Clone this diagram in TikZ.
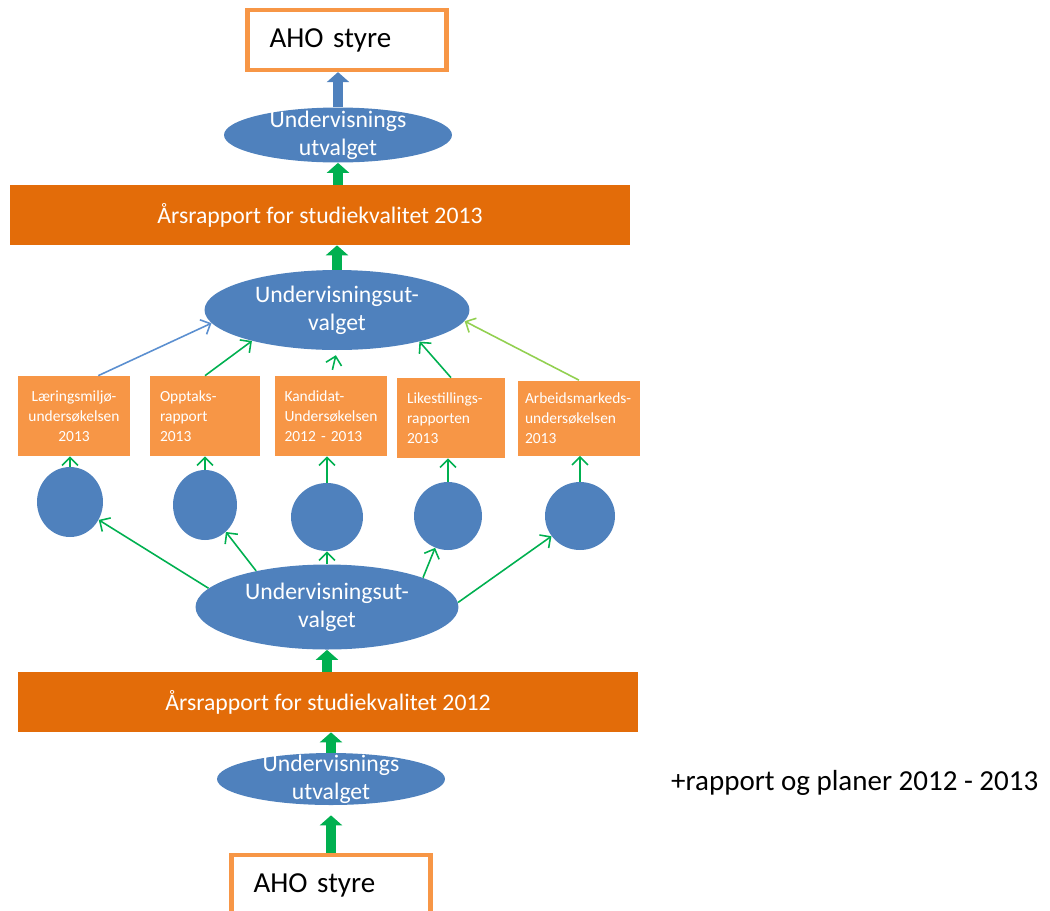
\documentclass[tikz,border=0pt]{standalone}
\usepackage{fontspec}
\setmainfont{Carlito}
\usetikzlibrary{arrows.meta, shapes.geometric}
\definecolor{bandOrange}{HTML}{E36C09}
\definecolor{boxOrange}{HTML}{F79646}
\definecolor{ovalBlue}{HTML}{4F81BD}
\definecolor{arrowGreen}{HTML}{00B050}
\definecolor{lightGreen}{HTML}{92D050}
\definecolor{lineBlue}{HTML}{5B8FD0}

\begin{document}
\begin{tikzpicture}[
    x=0.02cm, y=-0.02cm,
    every node/.style={align=center, font=\fontsize{13.5}{16}\selectfont},
    ahobox/.style={draw=boxOrange, line width=2.4pt, fill=white, text width=3.1cm, inner xsep=0.44cm, align=left, minimum height=1.2cm, font=\fontsize{16.5}{20}\selectfont},
    band/.style={fill=bandOrange, text=white, minimum width=12.4cm, minimum height=1.2cm},
    ovl/.style={ellipse, fill=ovalBlue, text=white, inner xsep=0pt, inner ysep=-0.3cm},
    dot/.style={ellipse, fill=ovalBlue, inner sep=0pt},
    report/.style={fill=boxOrange, text=white, inner ysep=0pt, inner xsep=0.2cm, minimum height=1.6cm, text width=#1, align=left, font=\fontsize{8.8}{11.5}\selectfont},
    bigarrow/.style={line width=0.2cm, -{Triangle[length=0.2cm, width=0.44cm]}},
    thinarrow/.style={line width=0.9pt, arrowGreen, -{Straight Barb[length=1.6mm, width=3.2mm]}}
]
\useasboundingbox (0,0) rectangle (1050,910);

% Top of the chain
\node[ahobox] (ahoTop) at (347,40) {AHO styre};
\node[ovl, minimum width=4.56cm, minimum height=1.1cm] (utvalgTop) at (338,135) {Undervisnings\\utvalget};
\node[band] (rapport2013) at (320,215) {Årsrapport for studiekvalitet 2013};
\node[ovl, minimum width=5.3cm, minimum height=1.6cm] (utvalgMid) at (337,310) {Undervisningsut-\\valget};

% Reports
\node[report=1.84cm, align=center] (laering) at (74,416) {Læringsmiljø-\\undersøkelsen\\2013};
\node[report=1.8cm] (opptak) at (205,416) {Opptaks-\\rapport\\2013};
\node[report=1.86cm] (kandidat) at (331,416) {Kandidat-\\Undersøkelsen\\2012 - 2013};
\node[report=1.76cm] (likestilling) at (451,418) {Likestillings-\\rapporten\\2013};
\node[report=2.16cm, inner xsep=0.14cm, minimum height=1.5cm] (arbeid) at (579,418) {Arbeidsmarkeds-\\undersøkelsen\\2013};

% Circles
\node[dot, minimum width=1.32cm, minimum height=1.4cm] (dot1) at (70,502) {};
\node[dot, minimum width=1.28cm, minimum height=1.4cm] (dot2) at (205,505) {};
\node[dot, minimum width=1.44cm, minimum height=1.36cm] (dot3) at (327,517) {};
\node[dot, minimum width=1.36cm, minimum height=1.36cm] (dot4) at (448,516) {};
\node[dot, minimum width=1.4cm, minimum height=1.36cm] (dot5) at (580,516) {};

% Bottom of the chain
\node[ovl, minimum width=5.26cm, minimum height=1.7cm] (utvalgLow) at (327,607) {Undervisningsut-\\valget};
\node[band] (rapport2012) at (328,702) {Årsrapport for studiekvalitet 2012};
\node[ovl, minimum width=4.56cm, minimum height=1.04cm] (utvalgBottom) at (331,779) {Undervisnings\\utvalget};
\node[ahobox] (ahoBottom) at (331,885) {AHO styre};
\node[anchor=west, font=\fontsize{16.5}{20}\selectfont] (planer) at (665,783) {+rapport og planer 2012 - 2013};

% Block arrows
\draw[bigarrow, ovalBlue] (utvalgTop.north) -- (utvalgTop.north |- ahoTop.south);
\draw[bigarrow, arrowGreen] (utvalgTop.south |- rapport2013.north) -- (utvalgTop.south);
\draw[bigarrow, arrowGreen] (utvalgMid.north) -- (utvalgMid.north |- rapport2013.south);
\draw[bigarrow, arrowGreen] (utvalgLow.south |- rapport2012.north) -- (utvalgLow.south);
\draw[bigarrow, arrowGreen] (utvalgBottom.north) -- (utvalgBottom.north |- rapport2012.south);
\draw[bigarrow, arrowGreen, shorten >=0.2cm] (ahoBottom.north) -- (utvalgBottom.south);

% Reports to the committee
\draw[thinarrow, lineBlue] (laering.59) -- (utvalgMid.186);
\draw[thinarrow] (opptak.north) -- (utvalgMid.200);
\draw[thinarrow, shorten <=0.12cm, shorten >=0.1cm] (kandidat.north) -- (utvalgMid.south);
\draw[thinarrow] (likestilling.north) -- (utvalgMid.339);
\draw[thinarrow, lightGreen] (arbeid.north) -- (utvalgMid.355);

% Circles to reports
\draw[thinarrow] (dot1.north) -- (dot1.north |- laering.south);
\draw[thinarrow] (dot2.north) -- (dot2.north |- opptak.south);
\draw[thinarrow] (dot3.north) -- (dot3.north |- kandidat.south);
\draw[thinarrow] (dot4.north) -- (dot4.north |- likestilling.south);
\draw[thinarrow] (dot5.north) -- (dot5.north |- arbeid.south);

% Committee to circles
\draw[thinarrow] (utvalgLow.171) -- (dot1);
\draw[thinarrow] (utvalgLow.153) -- (dot2);
\draw[thinarrow] (utvalgLow.north) -- (dot3.south);
\draw[thinarrow] (utvalgLow.17) -- (dot4);
\draw[thinarrow] (utvalgLow.2) -- (dot5);
\end{tikzpicture}
\end{document}
